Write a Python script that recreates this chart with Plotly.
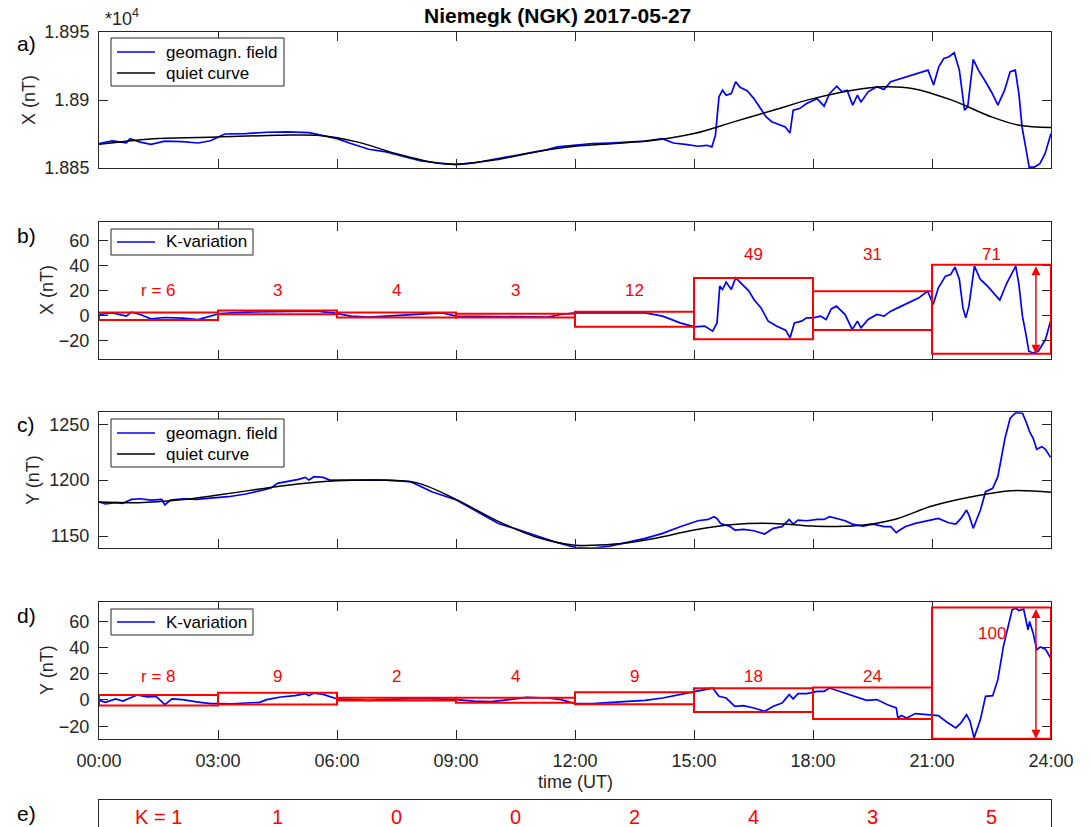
import plotly.graph_objects as go

W, H = 1091, 827
FONT = "Liberation Sans, Arial, Helvetica, sans-serif"
AX = "#262626"
BLUE = "#0000ff"
RED = "#ff0000"
TICKSIZE = 18

# ---------------- data (hours UT, nT) ----------------
tick_hours = [0, 3, 6, 9, 12, 15, 18, 21, 24]
tick_labels = ["00:00", "03:00", "06:00", "09:00", "12:00", "15:00", "18:00", "21:00", "24:00"]

# a) X geomagnetic field
x_field_t = [0, 0.34, 0.69, 0.78, 1.04, 1.31, 1.66, 2.1, 2.5, 2.81, 3.17, 3.7, 4.23, 4.76, 5.3, 5.65,
             6.0, 6.35, 6.8, 7.24, 7.68, 8.12, 8.57, 9.0, 9.45, 9.9, 10.34, 10.78, 11.3, 11.56, 12.0,
             12.44, 12.88, 13.33, 13.77, 14.2, 14.48, 14.83, 15.1, 15.32, 15.45, 15.54, 15.63, 15.72,
             15.81, 15.94, 16.05, 16.16, 16.34, 16.51, 16.69, 16.82, 16.96, 17.13, 17.3, 17.42, 17.5,
             17.66, 17.84, 18.1, 18.28, 18.42, 18.6, 18.73, 18.86, 19.0, 19.12, 19.21, 19.39, 19.61,
             19.79, 19.96, 20.23, 20.5, 20.67, 20.9, 21.04, 21.17, 21.3, 21.43, 21.56, 21.69, 21.82,
             21.9, 22.04, 22.17, 22.35, 22.52, 22.66, 22.83, 22.97, 23.1, 23.19, 23.27, 23.36, 23.45,
             23.58, 23.72, 23.85, 24.0]
x_field_v = [18868, 18870, 18868.5, 18871.6, 18869, 18867.4, 18869.7, 18869.4, 18868.4, 18870, 18875,
             18875.3, 18876.3, 18876.5, 18876, 18874, 18871.6, 18868, 18863.8, 18861.8, 18858.6,
             18855.2, 18853.7, 18852.5, 18853.7, 18856, 18858.6, 18861, 18863.5, 18865.5, 18866.7,
             18868, 18868.4, 18869.2, 18869.7, 18871.6, 18868.4, 18867.2, 18866, 18866.7, 18865.5,
             18874, 18902.3, 18907.2, 18903.5, 18904.8, 18913.4, 18909.4, 18906.8, 18901, 18893.7,
             18887.6, 18884, 18882.2, 18880.2, 18875.8, 18892.5, 18893.7, 18897.4, 18901, 18895.5,
             18904.8, 18910.2, 18906, 18907.2, 18896.2, 18903.5, 18898.6, 18906, 18909.7, 18907.7,
             18913.4, 18915.8, 18918.3, 18919.5, 18922, 18911, 18924.4, 18930.6, 18931.8, 18934.8,
             18922, 18892.5, 18895, 18929.9, 18922, 18913.4, 18904.8, 18896.2, 18907.2, 18920.8,
             18922, 18904.8, 18880.2, 18865.5, 18850.7, 18850.7, 18853.2, 18860.5, 18875.3]

# a) X quiet curve
x_quiet_t = [0, 1.5, 3, 4.5, 5.5, 6.5, 7.5, 8.5, 9, 10, 11, 12, 13, 14, 15, 16, 17, 18, 19, 19.8,
             20.5, 21.5, 22.5, 23.2, 24]
x_quiet_v = [18867.4, 18871.6, 18872.8, 18874, 18874, 18869.2, 18860.5, 18853.7, 18852.7, 18856,
             18861.8, 18866, 18868, 18870.4, 18875.3, 18883.9, 18892.5, 18901, 18907.2, 18909.7,
             18908.5, 18899.9, 18887.6, 18881.4, 18879.7]

# b) X K-variation
kx_t = [0, 0.34, 0.69, 0.82, 1.04, 1.31, 1.66, 2.11, 2.5, 2.81, 3.04, 3.7, 4.58, 5.47, 5.91, 6.35,
        6.8, 7.24, 8.12, 8.65, 9.01, 9.89, 10.78, 11.31, 11.65, 12.0, 12.88, 13.77, 14.21, 14.65,
        15.01, 15.27, 15.47, 15.58, 15.65, 15.72, 15.81, 15.94, 16.05, 16.2, 16.38, 16.51, 16.69,
        16.87, 17.09, 17.31, 17.42, 17.53, 17.71, 17.84, 18.0, 18.19, 18.33, 18.46, 18.59, 18.81,
        18.99, 19.12, 19.21, 19.39, 19.61, 19.79, 19.96, 20.23, 20.5, 20.67, 20.89, 21.03, 21.16,
        21.34, 21.47, 21.58, 21.69, 21.78, 21.85, 21.93, 22.07, 22.22, 22.4, 22.58, 22.71, 22.88,
        23.02, 23.11, 23.19, 23.28, 23.37, 23.44, 23.55, 23.68, 23.86, 23.99]
kx_v = [0.8, 2.1, -0.5, 2.7, 0.8, -2.7, -1.6, -2.1, -3.2, -0.5, 1.6, 2.7, 3.2, 3.5, 2.1, -0.5,
        -1.3, -0.5, 0.8, 2.1, -0.5, -0.8, -1.1, -1.3, 0.8, 2.1, 2.1, 2.1, -0.5, -5.9, -9.1, -8.5,
        -12.5, -5.9, 23.5, 20.8, 26.7, 20.8, 30.1, 25.1, 19.7, 12.8, 6.1, -4.5, -8.5, -11.7, -17.9,
        -5.9, -4.5, -1.9, -1.9, -0.5, -3.2, 5.3, 7.5, 0.8, -11.2, -4.5, -9.8, -3.2, 0.8, -0.5, 3.5,
        7.5, 11.5, 14.1, 19.5, 8.8, 22.1, 31.5, 32.8, 38.7, 28.8, 6.1, -1.9, 7.5, 39.5, 28.8, 23.5,
        16.8, 12.3, 25.6, 33.6, 39.5, 25.1, -0.5, -15.2, -28.5, -29.9, -28.5, -19.2, -4.5]

# b) 3-hour ranges (X)
kx_box_low = [-3.5, 1.0, -1.5, -1.5, -9.0, -19.0, -11.5, -30.5]
kx_box_high = [2.5, 4.0, 2.5, 1.5, 3.0, 30.0, 19.5, 40.5]
kx_r_labels = ["r = 6", "3", "4", "3", "12", "49", "31", "71"]
kx_label_y = [20, 20, 20, 20, 20, 49, 49, 49]

# c) Y geomagnetic field
y_field_t = [0, 0.16, 0.42, 0.6, 0.82, 1.04, 1.31, 1.58, 1.66, 1.8, 2.11, 2.46, 2.81, 3.26, 3.7,
             4.05, 4.32, 4.5, 4.76, 5.03, 5.2, 5.29, 5.42, 5.65, 5.82, 6.01, 6.8, 7.24, 7.86, 8.39,
             9.01, 9.54, 10.07, 10.6, 11.13, 11.56, 12.0, 12.44, 12.88, 13.77, 14.21, 14.65, 15.1,
             15.36, 15.5, 15.58, 15.67, 15.89, 16.03, 16.25, 16.51, 16.78, 17.0, 17.22, 17.4, 17.5,
             17.62, 17.84, 18.11, 18.28, 18.42, 18.59, 18.81, 18.99, 19.26, 19.52, 19.79, 19.96,
             20.1, 20.19, 20.32, 20.58, 20.85, 21.16, 21.42, 21.6, 21.73, 21.87, 21.93, 22.04, 22.22,
             22.35, 22.53, 22.66, 22.84, 22.97, 23.11, 23.28, 23.37, 23.46, 23.55, 23.64, 23.77,
             23.86, 23.99]
y_field_v = [1180.7, 1178.7, 1179.9, 1179.3, 1182.8, 1183.4, 1182.2, 1182.8, 1177.8, 1182.2,
             1183.4, 1182.8, 1184, 1185.2, 1187.6, 1190.6, 1192.7, 1197.2, 1198.7, 1200.7, 1202.5,
             1200.1, 1203.1, 1202.5, 1200.1, 1200.1, 1200.1, 1200.1, 1198.7, 1189.7, 1182.2,
             1171.8, 1161.3, 1155.4, 1148.8, 1144, 1139.9, 1139.2, 1141, 1147.9, 1152.4, 1158.4,
             1163.7, 1164.9, 1167.3, 1165.8, 1161.3, 1158.9, 1155.4, 1156, 1154.8, 1151.8, 1156.9,
             1158.4, 1164.9, 1160.7, 1164.3, 1163.7, 1164.9, 1164.9, 1167.3, 1165.8, 1163.7, 1160.7,
             1158.9, 1160.7, 1158.4, 1158.4, 1153, 1155.4, 1158.4, 1161.3, 1163.7, 1165.8, 1161.9,
             1160.7, 1165.8, 1173.3, 1168.8, 1156.9, 1173.3, 1189.7, 1192.7, 1203.1, 1237.5, 1255.4,
             1260.4, 1259.9, 1252.4, 1243.4, 1237.5, 1227.6, 1230, 1227.6, 1220.4]

# c) Y quiet curve
y_quiet_t = [0, 1, 2, 3, 4, 5, 6, 7, 8, 9, 10, 11, 12, 13, 14, 15, 16, 17, 18, 19, 20, 21, 22, 23, 24]
y_quiet_v = [1180.4, 1179.9, 1182.2, 1186.7, 1191.8, 1196.6, 1199.5, 1200.1, 1197.8, 1182.8,
             1164.3, 1149.4, 1141.9, 1142.8, 1147.9, 1155.4, 1160.4, 1161.3, 1158.9, 1158.9,
             1164.3, 1176.9, 1185.2, 1190.6, 1189.1]

# d) Y K-variation
ky_t = [0, 0.16, 0.42, 0.6, 0.96, 1.22, 1.44, 1.66, 1.84, 2.11, 2.46, 2.81, 3.01, 3.35, 3.7, 4.05,
        4.23, 4.58, 4.94, 5.2, 5.29, 5.42, 5.65, 6.01, 6.8, 7.24, 7.95, 8.57, 9.01, 9.45, 9.89,
        10.34, 10.78, 11.31, 11.65, 12.0, 12.44, 13.33, 13.77, 14.21, 14.65, 15.01, 15.32, 15.47,
        15.63, 15.81, 16.03, 16.25, 16.51, 16.78, 17.0, 17.22, 17.4, 17.5, 17.62, 17.84, 18.11,
        18.28, 18.42, 18.59, 18.81, 19.08, 19.35, 19.61, 19.88, 20.1, 20.14, 20.23, 20.36, 20.58,
        20.85, 21.16, 21.38, 21.6, 21.73, 21.87, 21.96, 22.06, 22.22, 22.35, 22.53, 22.66, 22.8,
        22.93, 23.02, 23.11, 23.19, 23.31, 23.42, 23.46, 23.55, 23.64, 23.73, 23.86, 23.99]
ky_v = [-0.3, -1.8, 0.8, -0.8, 3.8, 2.3, 2.8, -3.6, 0.8, 0.3, -1.5, -2.8, -2.8, -3.0, -2.3, -1.8,
        0.3, 2.3, 3.3, 4.8, 3.3, 5.3, 4.3, 0.8, -0.3, 0.3, 1.3, 0.8, 0.3, -0.8, -1.3, 0.3, 2.0,
        1.5, 0.3, -2.8, -2.8, -1.0, -0.3, 1.5, 4.1, 6.6, 7.9, 9.1, 2.8, 1.5, -4.8, -4.3, -6.1, -8.6,
        -4.8, -2.3, 4.1, 0.8, 4.8, 4.8, 6.6, 6.6, 9.1, 7.4, 5.3, 2.3, -0.3, 0.3, -3.6, -6.1, -13.7,
        -11.9, -13.7, -10.4, -11.2, -11.9, -17.0, -21.3, -17.5, -11.2, -16.2, -28.9, -15.0, 2.8,
        3.3, 15.5, 40.9, 58.6, 68.8, 70.0, 68.3, 69.3, 53.6, 59.9, 51.0, 38.3, 40.4, 38.8, 32.0]

# d) 3-hour ranges (Y)
ky_box_low = [-4.3, -3.5, -0.3, -2.2, -3.3, -9.1, -14.5, -29.5]
ky_box_high = [3.8, 5.5, 1.7, 1.8, 5.9, 8.9, 9.6, 70.5]
ky_r_labels = ["r = 8", "9", "2", "4", "9", "18", "24", "100"]
ky_label_y = [18, 18, 18, 18, 18, 18, 18, 51]

# e) K indices
k_labels = ["K = 1", "1", "0", "0", "2", "4", "3", "5"]

# ---------------- layout helpers ----------------
def fx(p):
    return p / W


def fy(p):
    return 1 - p / H


XDOM = [fx(99), fx(1051)]
panels = {
    "a": (32, 168),
    "b": (221.7, 359.3),
    "c": (412.3, 547.7),
    "d": (601.7, 739.3),
}


def paper_text(text, xp, yp, size, color, xanchor="center", angle=0, bold=False):
    return dict(x=fx(xp), y=fy(yp), xref="paper", yref="paper", xanchor=xanchor,
                yanchor="middle", text=("<b>%s</b>" % text) if bold else text,
                textangle=angle, showarrow=False,
                font=dict(size=size, color=color, family=FONT))


fig = go.Figure()

# a)
fig.add_trace(go.Scatter(x=x_field_t, y=x_field_v, xaxis="x", yaxis="y", mode="lines",
                         line=dict(color=BLUE, width=1.7), name="geomagn. field", showlegend=False))
fig.add_trace(go.Scatter(x=x_quiet_t, y=x_quiet_v, xaxis="x", yaxis="y", mode="lines",
                         line=dict(color="black", width=1.5, shape="spline"), name="quiet curve",
                         showlegend=False))
# b)
fig.add_trace(go.Scatter(x=kx_t, y=kx_v, xaxis="x2", yaxis="y2", mode="lines",
                         line=dict(color=BLUE, width=1.7), name="K-variation", showlegend=False))
# c)
fig.add_trace(go.Scatter(x=y_field_t, y=y_field_v, xaxis="x3", yaxis="y3", mode="lines",
                         line=dict(color=BLUE, width=1.7), name="geomagn. field", showlegend=False))
fig.add_trace(go.Scatter(x=y_quiet_t, y=y_quiet_v, xaxis="x3", yaxis="y3", mode="lines",
                         line=dict(color="black", width=1.5, shape="spline"), name="quiet curve",
                         showlegend=False))
# d)
fig.add_trace(go.Scatter(x=ky_t, y=ky_v, xaxis="x4", yaxis="y4", mode="lines",
                         line=dict(color=BLUE, width=1.7), name="K-variation", showlegend=False))

shapes = []
annotations = []
for axn, lows, highs, labels, ly in (("2", kx_box_low, kx_box_high, kx_r_labels, kx_label_y),
                                     ("4", ky_box_low, ky_box_high, ky_r_labels, ky_label_y)):
    for i in range(8):
        t0 = tick_hours[i]
        t1 = tick_hours[i + 1]
        shapes.append(dict(type="rect", xref="x" + axn, yref="y" + axn, x0=t0, x1=t1,
                           y0=lows[i], y1=highs[i], line=dict(color=RED, width=2),
                           layer="above"))
        annotations.append(dict(x=(t0 + t1) / 2, y=ly[i], xref="x" + axn, yref="y" + axn,
                                xanchor="center", yanchor="middle",
                                text=labels[i], showarrow=False,
                                font=dict(size=17, color=RED, family=FONT)))
    # double arrow for the largest range
    annotations.append(dict(x=23.62, y=lows[7], ax=23.62, ay=highs[7], xref="x" + axn,
                            yref="y" + axn, axref="x" + axn, ayref="y" + axn, text="",
                            showarrow=True, arrowhead=2, startarrowhead=2, arrowside="end+start",
                            arrowcolor=RED, arrowwidth=1.5, arrowsize=1.2, startarrowsize=1.2))

# e) K row
for i in range(8):
    annotations.append(dict(x=(tick_hours[i] + tick_hours[i + 1]) / 2, y=fy(816.5), xref="x5",
                            yref="paper", xanchor="center", yanchor="middle", text=k_labels[i],
                            showarrow=False, font=dict(size=20, color=RED, family=FONT)))

# panel letters
for lab, yp in (("a)", 43), ("b)", 235), ("c)", 424), ("d)", 615), ("e)", 813)):
    annotations.append(paper_text(lab, 26, yp, 21, "black"))

# y labels
for lab, xp, key in (("X (nT)", 29, "a"), ("X (nT)", 46.5, "b"), ("Y (nT)", 33, "c"),
                     ("Y (nT)", 46.5, "d")):
    top, bot = panels[key]
    annotations.append(paper_text(lab, xp, (top + bot) / 2, TICKSIZE, AX, angle=-90))

# x label, exponent, title
annotations.append(paper_text("time (UT)", 575, 782, TICKSIZE, AX))
annotations.append(paper_text("*10<sup>4</sup>", 103, 18, TICKSIZE, AX, xanchor="left"))
annotations.append(paper_text("Niemegk (NGK) 2017-05-27", 557, 15, 21, "black", bold=True))


# legends (box, line samples, labels) drawn in paper coordinates
def add_legend(box, entries):
    x0, y0, x1, y1 = box
    shapes.append(dict(type="rect", xref="paper", yref="paper", x0=fx(x0), x1=fx(x1),
                       y0=fy(y1), y1=fy(y0), line=dict(color=AX, width=1),
                       fillcolor="white", layer="above"))
    for yrow, color, label in entries:
        shapes.append(dict(type="line", xref="paper", yref="paper", x0=fx(117), x1=fx(155),
                           y0=fy(yrow), y1=fy(yrow), line=dict(color=color, width=1.7),
                           layer="above"))
        annotations.append(paper_text(label, 164, yrow, 17, "black", xanchor="left"))


add_legend((111, 38, 284, 86), [(52, BLUE, "geomagn. field"), (73, "black", "quiet curve")])
add_legend((111, 229, 253, 255), [(242, BLUE, "K-variation")])
add_legend((111, 419, 284, 467), [(433, BLUE, "geomagn. field"), (454, "black", "quiet curve")])
add_legend((111, 609, 253, 635), [(622, BLUE, "K-variation")])


def xaxis(anchor, show_labels):
    return dict(domain=XDOM, anchor=anchor, range=[0, 24], tickvals=tick_hours,
                ticktext=tick_labels, showticklabels=show_labels, ticks="inside", ticklen=9,
                tickwidth=1, tickcolor=AX, showline=True, linecolor=AX, linewidth=1,
                mirror="ticks", showgrid=False, zeroline=False, automargin=False,
                ticklabelstandoff=5,
                tickfont=dict(size=TICKSIZE, color=AX, family=FONT))


def yaxis(anchor, key, rng, tv, tt=None):
    top, bot = panels[key]
    d = dict(domain=[fy(bot), fy(top)], anchor=anchor, range=rng, tickvals=tv, ticks="inside",
             ticklen=9, tickwidth=1, tickcolor=AX, showline=True, linecolor=AX, linewidth=1,
             mirror="ticks", showgrid=False, zeroline=False, automargin=False,
             ticklabelstandoff=5,
             tickfont=dict(size=TICKSIZE, color=AX, family=FONT))
    if tt is not None:
        d["ticktext"] = tt
    return d


fig.update_layout(
    template="none",
    width=W, height=H,
    margin=dict(l=0, r=0, t=0, b=0, pad=0, autoexpand=False),
    paper_bgcolor="white", plot_bgcolor="white",
    font=dict(family=FONT, color=AX),
    showlegend=False,
    xaxis=xaxis("y", False),
    yaxis=yaxis("x", "a", [18850, 18950], [18850, 18900, 18950], ["1.885", "1.89", "1.895"]),
    xaxis2=xaxis("y2", False),
    yaxis2=yaxis("x2", "b", [-35, 75], [-20, 0, 20, 40, 60]),
    xaxis3=xaxis("y3", False),
    yaxis3=yaxis("x3", "c", [1139.6, 1260.7], [1150, 1200, 1250]),
    xaxis4=xaxis("y4", True),
    yaxis4=yaxis("x4", "d", [-30, 75], [-20, 0, 20, 40, 60]),
    xaxis5=dict(domain=XDOM, anchor="y5", range=[0, 24], side="top", showline=True,
                linecolor=AX, linewidth=1, mirror=False, showticklabels=False, ticks="",
                showgrid=False, zeroline=False, automargin=False),
    yaxis5=dict(domain=[0, fy(800)], anchor="x5", range=[0, 1], showline=True, linecolor=AX,
                linewidth=1, mirror=True, showticklabels=False, ticks="", showgrid=False,
                zeroline=False, automargin=False),
    shapes=shapes,
    annotations=annotations,
)

fig.write_html("out.html", config={"displayModeBar": False},
               post_script="document.body.style.margin='0px';document.body.style.overflow='hidden';")
